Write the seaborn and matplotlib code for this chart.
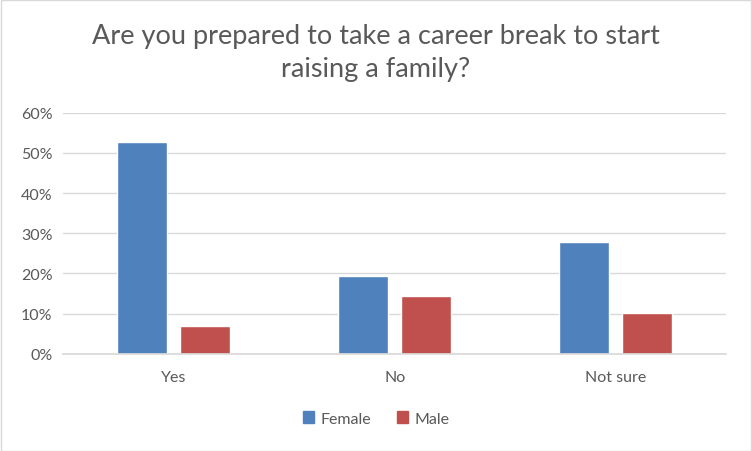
import matplotlib
matplotlib.use("Agg")
import matplotlib.pyplot as plt
import matplotlib.patches as mpatches
import seaborn as sns
import pandas as pd

# 資料
categories = ["Yes", "No", "Not sure"]
female = [0.527, 0.193, 0.277]
male = [0.069, 0.143, 0.101]
series_names = ["Female", "Male"]
colors = ["#4F81BD", "#C0504D"]
y_ticks = [0, 0.1, 0.2, 0.3, 0.4, 0.5, 0.6]
y_tick_labels = ["0%", "10%", "20%", "30%", "40%", "50%", "60%"]
title = "Are you prepared to take a career break to start\nraising a family?"

df = pd.DataFrame({
    "answer": categories * 2,
    "value": female + male,
    "gender": [series_names[0]] * len(categories) + [series_names[1]] * len(categories),
})

sns.set_theme(style="white")
plt.rcParams["font.family"] = ["Lato", "DejaVu Sans"]

fig = plt.figure(figsize=(7.52, 4.52), dpi=100)
ax = fig.add_axes([0.0844, 0.2153, 0.8816, 0.5332])

sns.barplot(data=df, x="answer", y="value", hue="gender", palette=colors,
            width=0.57, gap=0.207, ax=ax, legend=False, saturation=1)

ax.set_xlim(-0.5, 2.5)
ax.set_ylim(0, 0.6)
ax.set_yticks(y_ticks)
ax.set_yticklabels(y_tick_labels)
ax.set_xlabel("")
ax.set_ylabel("")
ax.yaxis.grid(True, color="#D9D9D9", linewidth=1)
ax.set_axisbelow(True)
for s in ["top", "right", "left"]:
    ax.spines[s].set_visible(False)
ax.spines["bottom"].set_color("#D9D9D9")
ax.tick_params(axis="both", length=0, labelsize=11.5, colors="#595959", pad=8)
ax.tick_params(axis="x", pad=12)

fig.text(0.5, 0.882, title, ha="center", va="center", fontsize=19.5,
         color="#595959", linespacing=1.4)

handles = [mpatches.Patch(color=c, label=n) for c, n in zip(colors, series_names)]
leg = fig.legend(handles=handles, loc="center", bbox_to_anchor=(0.5, 0.072),
                 ncol=2, frameon=False, fontsize=11.5, handlelength=0.7,
                 handleheight=0.7, handletextpad=0.4, columnspacing=1.6)
for t in leg.get_texts():
    t.set_color("#595959")

fig.patches.append(mpatches.Rectangle((0.001, 0.001), 0.998, 0.997, transform=fig.transFigure,
                                      fill=False, edgecolor="#D9D9D9", linewidth=1))

fig.savefig("out.png", dpi=100)
